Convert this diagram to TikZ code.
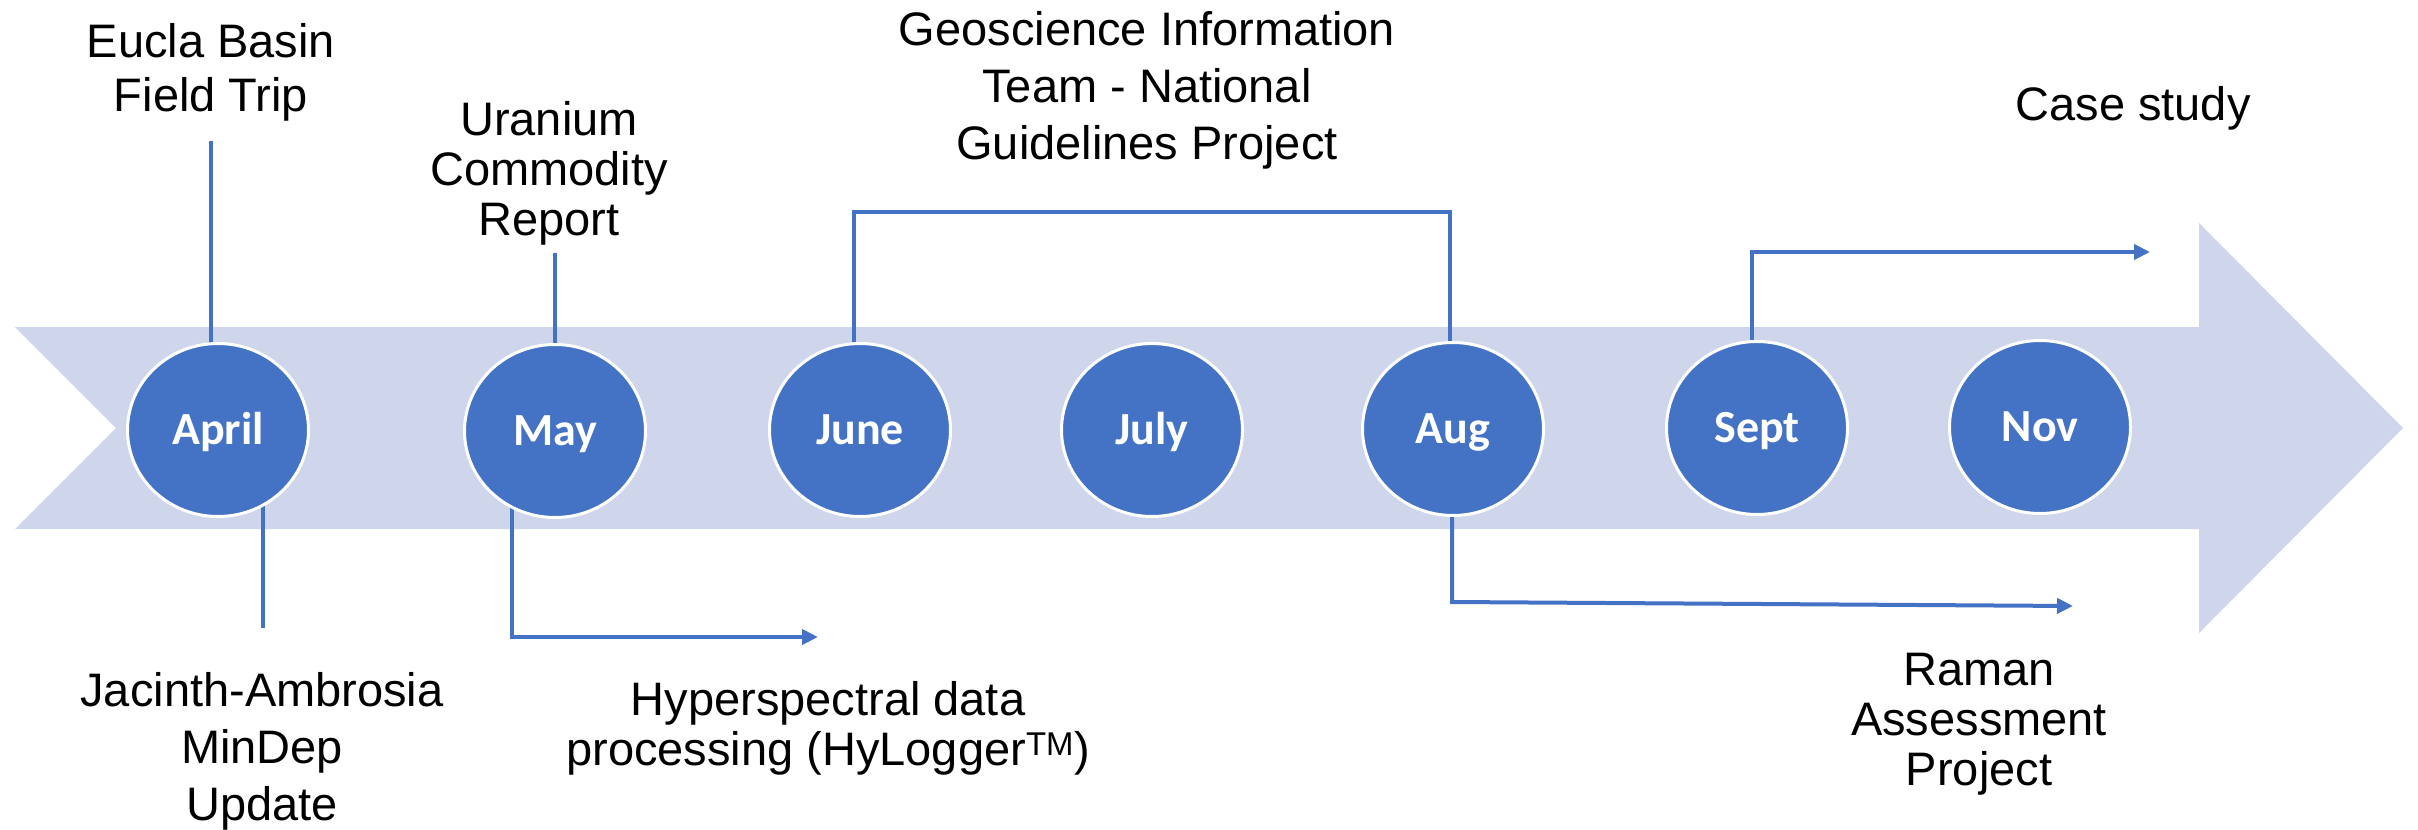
\documentclass[tikz,border=0pt]{standalone}
\usepackage{fontspec}
\setmainfont{Liberation Sans}
\newfontfamily\calfont{Carlito}
\usetikzlibrary{shapes.geometric,arrows.meta}
\definecolor{obl}{HTML}{4472C4}
\definecolor{band}{HTML}{CFD5EA}
\pgfdeclarelayer{bg}
\pgfdeclarelayer{mid}
\pgfsetlayers{bg,mid,main}
\tikzset{
  month/.style={ellipse, fill=obl, draw=white, line width=3pt,
    minimum width=181pt, minimum height=173pt, inner sep=0pt,
    text=white, font=\calfont\bfseries\fontsize{46}{50}\selectfont,
    text height=29.6pt, text depth=0pt},
  lbl/.style={align=center, inner sep=0pt, anchor=base},
  conn/.style={draw=obl, line width=4pt},
  arr/.style={conn, -{Triangle[length=16pt,width=15pt]}}
}
\begin{document}
\begin{tikzpicture}[x=1pt,y=-1pt]
\useasboundingbox (0,0) rectangle (2418,830);
% months
\node[month] (apr) at (218,430) {April};
\node[month] (may) at (555,431) {May};
\node[month] (jun) at (860,430) {June};
\node[month] (jul) at (1152,430) {July};
\node[month] (aug) at (1453,429) {Aug};
\node[month] (sep) at (1757,428) {Sept};
\node[month] (nov) at (2040,427) {Nov};
% labels (anchor = baseline of last line)
\node[lbl, font=\fontsize{47}{54}\selectfont] (eucla) at (211,111) {Eucla Basin\\Field Trip};
\node[lbl, font=\fontsize{47}{50}\selectfont] (uran) at (549,235) {Uranium\\Commodity\\Report};
\node[lbl, font=\fontsize{47}{57}\selectfont] (geo) at (1147,159) {Geoscience Information\\Team - National\\Guidelines Project};
\node[lbl, font=\fontsize{47}{50}\selectfont] (case) at (2133,120) {Case study};
\node[lbl, font=\fontsize{47}{57}\selectfont] (jac) at (262,820) {Jacinth-Ambrosia\\MinDep\\Update};
\node[lbl, font=\fontsize{47}{50}\selectfont] (hyp) at (828,765) {Hyperspectral data\\processing (HyLogger\textsuperscript{TM})};
\node[lbl, font=\fontsize{47}{50}\selectfont] (ram) at (1979,785) {Raman\\Assessment\\Project};
% band arrow
\begin{pgfonlayer}{bg}
\fill[band] (15,327) -- (2199,327) -- (2199,223) -- (2403,428) -- (2199,633)
  -- (2199,529) -- (15,529) -- (116,428) -- cycle;
\end{pgfonlayer}
% connectors
\coordinate (eu) at (211,141);
\coordinate (ja) at (263,628);
\coordinate (ur) at (555,253);
\coordinate (mb) at (512,637);
\coordinate (hy) at (818,637);
\coordinate (g1) at (854,212);
\coordinate (g2) at (1450,212);
\coordinate (ab) at (1452,602);
\coordinate (ra) at (2073,606);
\coordinate (st) at (1752,252);
\coordinate (cs) at (2150,252);
\begin{pgfonlayer}{mid}
\draw[conn] (eu) -- (eu |- apr.center);
\draw[conn] (ja) -- (ja |- apr.center);
\draw[conn] (ur) -- (ur |- may.center);
\draw[arr] (mb |- may.center) -- (mb) -- (hy);
\draw[conn] (g1 |- jun.center) -- (g1) -- (g2) -- (g2 |- aug.center);
\draw[arr] (ab |- aug.center) -- (ab) -- (ra);
\draw[arr] (st |- sep.center) -- (st) -- (cs);
\end{pgfonlayer}
\end{tikzpicture}
\end{document}
